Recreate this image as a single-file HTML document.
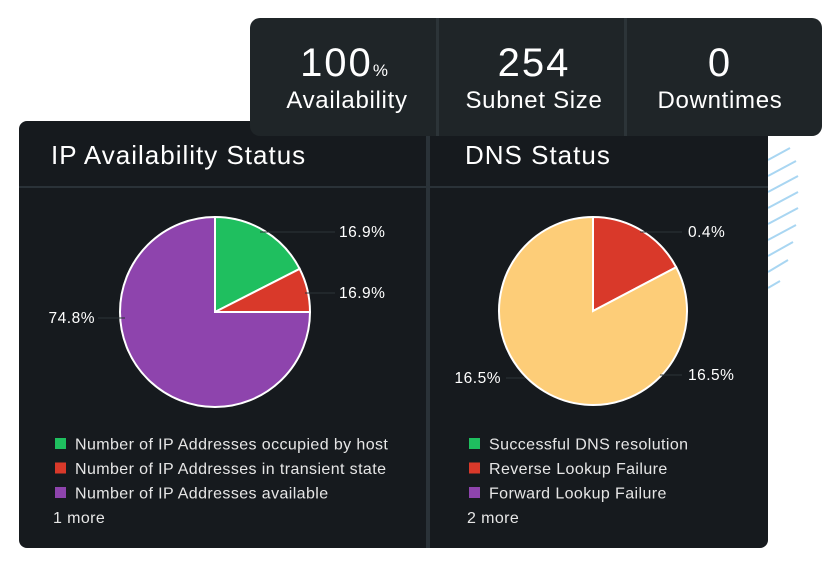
<!DOCTYPE html>
<html><head><meta charset="utf-8"><style>
html,body{margin:0;padding:0;background:#fff;width:831px;height:564px;overflow:hidden}
svg{display:block;font-family:"Liberation Sans",sans-serif}
</style></head><body>
<svg id="chart" width="831" height="564" viewBox="0 0 831 564">
<g stroke="#a9d6f2" stroke-width="2">
<line x1="768" y1="160" x2="790" y2="148"/><line x1="768" y1="176" x2="796" y2="161"/>
<line x1="768" y1="192" x2="798" y2="176"/><line x1="768" y1="208" x2="798" y2="192"/>
<line x1="768" y1="224" x2="798" y2="208"/><line x1="768" y1="240" x2="796" y2="225"/>
<line x1="768" y1="256" x2="793" y2="242"/><line x1="768" y1="272" x2="788" y2="260"/>
<line x1="768" y1="288" x2="780" y2="281"/>
</g>
<rect x="19" y="121" width="749" height="427" rx="8" fill="#161a1e"/>
<rect x="19" y="186" width="749" height="2" fill="#2a3238"/>
<rect x="426" y="121" width="4" height="427" fill="#2a3238"/>
<text x="51" y="164" fill="#fff" font-size="26" letter-spacing="1">IP Availability Status</text>
<text x="465" y="164" fill="#fff" font-size="26" letter-spacing="1">DNS Status</text>

<rect x="250" y="18" width="572" height="118" rx="10" fill="#1f2528"/>
<rect x="436" y="18" width="3" height="118" fill="#2c3438"/>
<rect x="624" y="18" width="3" height="118" fill="#2c3438"/>
<g fill="#fff" text-anchor="middle">
<text x="344" y="76" font-size="40" letter-spacing="2">100<tspan font-size="17" letter-spacing="0">%</tspan></text>
<text x="347" y="108" font-size="24" letter-spacing="0.7">Availability</text>
<text x="534" y="76" font-size="40" letter-spacing="2">254</text>
<text x="534" y="108" font-size="24" letter-spacing="0.7">Subnet Size</text>
<text x="720" y="76" font-size="40" letter-spacing="2">0</text>
<text x="720" y="108" font-size="24" letter-spacing="0.7">Downtimes</text>
</g>
<g id="ipPie"></g><g id="dnsPie"></g><g id="legends"></g>
</svg>
<script>
const colors = ["#1fbf5f","#d9392a","#8e44ad","#fdcd78"];
const ipCategories = ["Number of IP Addresses occupied by host","Number of IP Addresses in transient state","Number of IP Addresses available"];
const ipValues = [17.5, 7.5, 75];
const ipLabels = ["16.9%","16.9%","74.8%"];
const dnsCategories = ["Successful DNS resolution","Reverse Lookup Failure","Forward Lookup Failure"];
const dnsValues = [0, 17.3, 82.7];
const dnsLabels = ["0.4%","16.5%","16.5%"];
const NS = "http://www.w3.org/2000/svg";
function mk(tag, attrs, parent){const e=document.createElementNS(NS,tag);for(const k in attrs)e.setAttribute(k,attrs[k]);parent.appendChild(e);return e;}
function pt(cx,cy,r,a){return [cx+r*Math.sin(a), cy-r*Math.cos(a)];}
function drawPie(g, cx, cy, r, values, sliceColors, labels, labelPos, prefix){
  const total = values.reduce((a,b)=>a+b,0);
  let a0 = 0;
  values.forEach((v,i)=>{
    const a1 = a0 + v/total*2*Math.PI;
    if (v > 0) {
      const p0=pt(cx,cy,r,a0), p1=pt(cx,cy,r,a1);
      const large = (a1-a0)>Math.PI?1:0;
      const p = mk("path",{d:`M${cx},${cy} L${p0[0]},${p0[1]} A${r},${r} 0 ${large} 1 ${p1[0]},${p1[1]} Z`,fill:sliceColors[i],stroke:"#fff","stroke-width":2},g);
      
      
    }
    a0 = a1;
  });
  labels.forEach((t,i)=>{
    const lp = labelPos[i];
    mk("line",{x1:lp[2],y1:lp[1]-5,x2:lp[3],y2:lp[1]-5,stroke:"#2c3438","stroke-width":1},g);
    const tx = mk("text",{x:lp[0],y:lp[1],fill:"#fff","font-size":15.5,"letter-spacing":0.5,"text-anchor":lp[4]},g);
    tx.textContent = t;
    
    
  });
}
drawPie(document.getElementById("ipPie"),215,312,95,ipValues,colors.slice(0,3),ipLabels,
  [[339,237,260,335,"start"],[339,298,305,335,"start"],[95,323,98,125,"end"]],"ip-pie");
drawPie(document.getElementById("dnsPie"),593,311,94,dnsValues,[colors[0],colors[1],colors[3]],dnsLabels,
  [[688,237,640,682,"start"],[688,380,660,682,"start"],[501,383,506,525,"end"]],"dns-pie");
const lg = document.getElementById("legends");
function legend(x, cats, cols, more, prefix){
  cats.forEach((c,i)=>{
    const y = 444 + i*24.5;
    const s = mk("rect",{x:x,y:y-6,width:11,height:11,fill:cols[i]},lg);
    
    
    const t = mk("text",{x:x+20,y:y+5.5,fill:"#e6e6e6","font-size":16,"letter-spacing":0.4},lg);
    t.textContent = c;
    
    
  });
  const m = mk("text",{x:x-2,y:523,fill:"#e6e6e6","font-size":16,"letter-spacing":0.4},lg);
  m.textContent = more;
  
  
}
legend(55, ipCategories, colors.slice(0,3), "1 more", "ip");
legend(469, dnsCategories, colors.slice(0,3), "2 more", "dns");
</script>
</body></html>
